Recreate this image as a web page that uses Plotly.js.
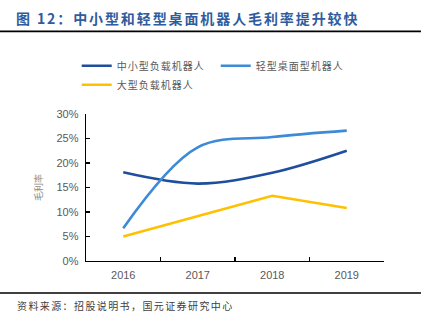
<!DOCTYPE html>
<html>
<head>
<meta charset="utf-8">
<script src="https://cdn.plot.ly/plotly-3.0.1.min.js"></script>
<style>
body{margin:0;padding:0;background:#fff;}
#chart{width:431px;height:327px;}
.gtitle{letter-spacing:1.9px;}
.legendtext{letter-spacing:1px;}
.annotation-text{letter-spacing:1.4px;}
</style>
</head>
<body>
<div id="chart"></div>
<script>
var years = ['2016', '2017', '2018', '2019'];
var seriesNames = ['中小型负载机器人', '轻型桌面型机器人', '大型负载机器人'];
var smallMedium = [0.181, 0.158, 0.180, 0.225];
var lightDesktop = [0.067, 0.232, 0.253, 0.266];
var large = [0.050, 0.092, 0.133, 0.108];
var yTicks = [0, 0.05, 0.10, 0.15, 0.20, 0.25, 0.30];
var yTickLabels = ['0%', '5%', '10%', '15%', '20%', '25%', '30%'];

var traces = [
  {x: years, y: smallMedium, name: seriesNames[0], type: 'scatter', mode: 'lines',
   line: {color: '#1F4E9C', width: 2.6, shape: 'spline', smoothing: 1}},
  {x: years, y: lightDesktop, name: seriesNames[1], type: 'scatter', mode: 'lines',
   line: {color: '#3D8AD6', width: 2.6, shape: 'spline', smoothing: 1}},
  {x: years, y: large, name: seriesNames[2], type: 'scatter', mode: 'lines',
   line: {color: '#FFC000', width: 2.6}}
];

var layout = {
  width: 431, height: 327,
  margin: {l: 86, r: 47, t: 114, b: 66},
  paper_bgcolor: '#fff', plot_bgcolor: '#fff',
  font: {family: 'Liberation Sans, Arial, sans-serif', color: '#595959', size: 11},
  title: {text: '<b>图 12：中小型和轻型桌面机器人毛利率提升较快</b>', x: 0.037, xanchor: 'left', xref: 'container',
          y: 0.942, yanchor: 'middle', yref: 'container',
          font: {family: 'Noto Sans CJK SC, sans-serif', size: 14, color: '#2F5C9E'}},
  showlegend: true,
  legend: {orientation: 'h', x: 0.178, xref: 'container', xanchor: 'left', y: 0.77, yref: 'container', yanchor: 'middle',
           font: {family: 'Noto Sans CJK SC, sans-serif', size: 10, color: '#595959'},
           entrywidth: 94, entrywidthmode: 'pixels', traceorder: 'normal', bgcolor: 'rgba(0,0,0,0)'},
  xaxis: {type: 'category', range: [-0.5, 3.5], showline: true, linecolor: '#000', linewidth: 1.3,
          ticks: 'inside', tickson: 'boundaries', ticklen: 4, tickcolor: '#000', tickwidth: 1.2,
          showgrid: false, zeroline: false, fixedrange: true, ticklabelstandoff: 3,
          tickfont: {size: 11, color: '#595959'}},
  yaxis: {range: [0, 0.30], tickvals: yTicks, ticktext: yTickLabels, showline: true, linecolor: '#000', linewidth: 1.3,
          ticks: 'inside', ticklen: 4, tickcolor: '#000', tickwidth: 1.2, showgrid: false, zeroline: false,
          ticklabelstandoff: 4,
          tickfont: {size: 11, color: '#595959'},
          title: {text: '毛利率', standoff: 12, font: {family: 'Noto Sans CJK SC, sans-serif', size: 9, color: '#8c8c8c'}}},
  shapes: [
    {type: 'line', xref: 'paper', yref: 'paper', x0: -0.2886, x1: 1.124, y0: 1.562, y1: 1.562,
     line: {color: '#000', width: 1.6}},
    {type: 'line', xref: 'paper', yref: 'paper', x0: -0.2886, x1: 1.124, y0: -0.2177, y1: -0.2177,
     line: {color: '#000', width: 1.6}}
  ],
  annotations: [
    {text: '资料来源：招股说明书，国元证券研究中心', xref: 'paper', yref: 'paper', x: -0.238, y: -0.306,
     xanchor: 'left', yanchor: 'middle', showarrow: false,
     font: {family: 'Noto Sans CJK SC, sans-serif', size: 10, color: '#404040'}}
  ]
};

Plotly.newPlot('chart', traces, layout, {displayModeBar: false, staticPlot: true});
</script>
</body>
</html>
